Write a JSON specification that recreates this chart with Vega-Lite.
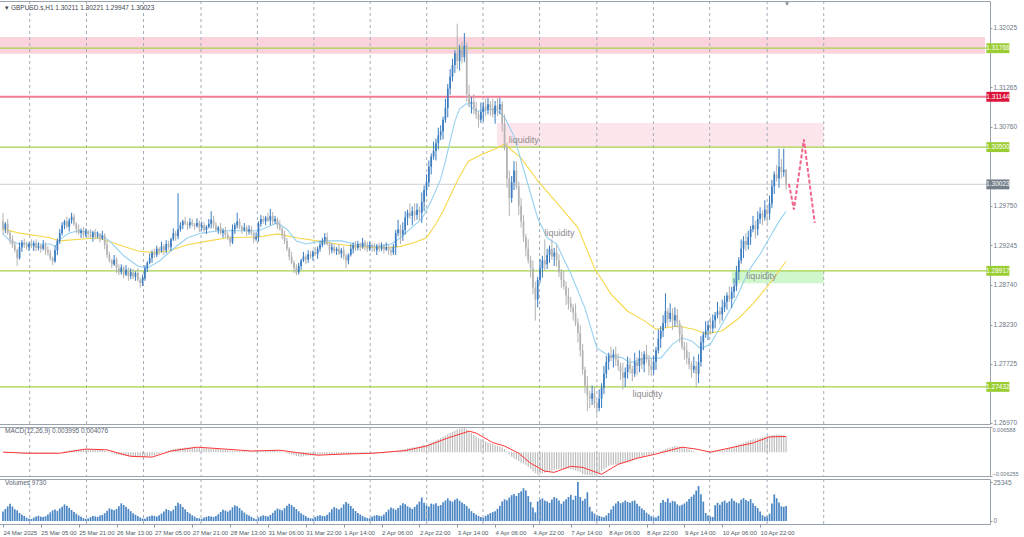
{
"$schema": "https://vega.github.io/schema/vega-lite/v6.json",
"background": "white",
"padding": {"left": -7, "top": 0, "right": 0, "bottom": 0},
"bounds": "flush",
"spacing": 3,
"config": {
  "view": {"stroke": "#9aa4ae", "strokeWidth": 1},
  "font": "Liberation Sans",
  "axis": {"grid": false, "domain": false, "labelFont": "Liberation Sans", "labelFontSize": 6.5, "labelColor": "#6b7784", "tickColor": "#8c96a0", "tickSize": 2, "labelPadding": 1, "labelOverlap": false, "labelFlush": false}
},
"datasets": {
"grid": [{"i":11.3},{"i":35.3},{"i":59.4},{"i":83.7},{"i":107.5},{"i":131.4},{"i":155.2},{"i":179.1},{"i":202.9},{"i":226.8},{"i":251.0},{"i":274.9},{"i":298.7},{"i":323.0},{"i":346.9}],
"levels": [{"p":1.31766,"t":"1.31766","k":"zone"},{"p":1.31144,"t":"1.31144","k":"red"},{"p":1.305,"t":"1.30500","k":"zone"},{"p":1.30023,"t":"1.30023","k":"bid"},{"p":1.28917,"t":"1.28917","k":"zone"},{"p":1.27432,"t":"1.27432","k":"zone"}],
"notes": [{"i":213.8,"p":1.3059,"t":"liquidity"},{"i":228.9,"p":1.2940,"t":"liquidity"},{"i":266.1,"p":1.2734,"t":"liquidity"},{"i":314.2,"p":1.2885,"t":"liquidity"}],
"proj": [{"i":332.2,"p":1.3003},{"i":334.3,"p":1.2970},{"i":338.5,"p":1.3060},{"i":343.1,"p":1.2953}],
"ma1": [{"i":0,"p":1.2939},{"i":3,"p":1.2930},{"i":7,"p":1.2926},{"i":20,"p":1.2926},{"i":22,"p":1.2923},{"i":24,"p":1.2932},{"i":28,"p":1.2940},{"i":32,"p":1.2943},{"i":40,"p":1.2940},{"i":45,"p":1.2930},{"i":51,"p":1.2911},{"i":57,"p":1.2898},{"i":61,"p":1.2895},{"i":66,"p":1.2904},{"i":72,"p":1.2920},{"i":78,"p":1.2934},{"i":84,"p":1.2940},{"i":91,"p":1.2943},{"i":99,"p":1.2943},{"i":108,"p":1.2943},{"i":112,"p":1.2948},{"i":116,"p":1.2953},{"i":120,"p":1.2945},{"i":124,"p":1.2930},{"i":128,"p":1.2926},{"i":135,"p":1.2930},{"i":143,"p":1.2930},{"i":149,"p":1.2926},{"i":158,"p":1.2923},{"i":164,"p":1.2926},{"i":168,"p":1.2934},{"i":172,"p":1.2945},{"i":177,"p":1.2958},{"i":181,"p":1.2981},{"i":185,"p":1.3009},{"i":187,"p":1.3032},{"i":189,"p":1.3058},{"i":191,"p":1.3083},{"i":193,"p":1.3099},{"i":196,"p":1.3106},{"i":200,"p":1.3096},{"i":208,"p":1.3099},{"i":212,"p":1.3088},{"i":216,"p":1.3064},{"i":220,"p":1.3022},{"i":226,"p":1.2959},{"i":230,"p":1.2934},{"i":234,"p":1.2926},{"i":240,"p":1.2888},{"i":246,"p":1.2844},{"i":251,"p":1.2793},{"i":255,"p":1.2785},{"i":262,"p":1.2780},{"i":265,"p":1.2774},{"i":271,"p":1.2780},{"i":278,"p":1.2780},{"i":283,"p":1.2798},{"i":287,"p":1.2806},{"i":291,"p":1.2802},{"i":295,"p":1.2792},{"i":299,"p":1.2798},{"i":304,"p":1.2824},{"i":310,"p":1.2857},{"i":315,"p":1.2891},{"i":320,"p":1.2913},{"i":324,"p":1.2934},{"i":328,"p":1.2955},{"i":331,"p":1.2968}],
"ma2": [{"i":0,"p":1.2945},{"i":7,"p":1.2940},{"i":20,"p":1.2934},{"i":24,"p":1.2930},{"i":40,"p":1.2934},{"i":57,"p":1.2917},{"i":64,"p":1.2915},{"i":70,"p":1.2917},{"i":78,"p":1.2925},{"i":87,"p":1.2930},{"i":95,"p":1.2934},{"i":108,"p":1.2935},{"i":116,"p":1.2939},{"i":124,"p":1.2934},{"i":133,"p":1.2930},{"i":141,"p":1.2926},{"i":149,"p":1.2923},{"i":162,"p":1.2921},{"i":168,"p":1.2923},{"i":174,"p":1.2928},{"i":179,"p":1.2934},{"i":183,"p":1.2952},{"i":186,"p":1.2968},{"i":190,"p":1.2994},{"i":192.5,"p":1.3010},{"i":196.7,"p":1.3032},{"i":202.5,"p":1.3041},{"i":209,"p":1.3049},{"i":212,"p":1.3054},{"i":219,"p":1.3036},{"i":226,"p":1.3007},{"i":236,"p":1.2972},{"i":243,"p":1.2947},{"i":250,"p":1.2895},{"i":257,"p":1.2862},{"i":264,"p":1.2840},{"i":271,"p":1.2828},{"i":276,"p":1.2817},{"i":285,"p":1.2821},{"i":292,"p":1.2817},{"i":297,"p":1.2811},{"i":304,"p":1.2815},{"i":311,"p":1.2831},{"i":318,"p":1.2853},{"i":325,"p":1.2879},{"i":331,"p":1.2904}],
"sig": [{"i":0,"s":0},{"i":11,"s":-0.0003},{"i":24,"s":-0.0003},{"i":35,"s":0.0008},{"i":44,"s":0.0006},{"i":49,"s":-0.0003},{"i":54,"s":-0.0011},{"i":63,"s":-0.0013},{"i":71,"s":0.0003},{"i":82,"s":0.0013},{"i":94,"s":0.0008},{"i":105,"s":0.0003},{"i":117,"s":0.0005},{"i":124,"s":-0.0001},{"i":133,"s":-0.0008},{"i":144,"s":-0.0005},{"i":156,"s":-0.0003},{"i":166,"s":0.0002},{"i":170,"s":0.0004},{"i":179,"s":0.0016},{"i":188,"s":0.0037},{"i":197,"s":0.0055},{"i":200,"s":0.0050},{"i":207,"s":0.0025},{"i":212,"s":0.0016},{"i":218,"s":-0.0003},{"i":223,"s":-0.0029},{"i":229,"s":-0.0050},{"i":233,"s":-0.0053},{"i":240,"s":-0.0037},{"i":245,"s":-0.0040},{"i":253,"s":-0.0058},{"i":260,"s":-0.0032},{"i":268,"s":-0.0016},{"i":276,"s":-0.0005},{"i":287,"s":0.0013},{"i":293,"s":0.0008},{"i":299,"s":0.0000},{"i":305,"s":0.0008},{"i":317,"s":0.0024},{"i":324,"s":0.0040},{"i":331,"s":0.0041}],
"bars": [
{"i":0,"o":1.2955,"h":1.2966,"l":1.2938,"c":1.2945,"v":6200,"m":0},
{"i":1,"o":1.2945,"h":1.2954,"l":1.2940,"c":1.2952,"v":7800,"m":-0.0001},
{"i":2,"o":1.2952,"h":1.2958,"l":1.2938,"c":1.2940,"v":9500,"m":-0.0001},
{"i":3,"o":1.2940,"h":1.2943,"l":1.2926,"c":1.2932,"v":11200,"m":-0.0002},
{"i":4,"o":1.2932,"h":1.2937,"l":1.2921,"c":1.2925,"v":9400,"m":-0.0002},
{"i":5,"o":1.2925,"h":1.2929,"l":1.2915,"c":1.2918,"v":7600,"m":-0.0002},
{"i":6,"o":1.2918,"h":1.2920,"l":1.2898,"c":1.2908,"v":6900,"m":-0.0003},
{"i":7,"o":1.2908,"h":1.2928,"l":1.2906,"c":1.2922,"v":5200,"m":-0.0003},
{"i":8,"o":1.2922,"h":1.2931,"l":1.2916,"c":1.2928,"v":4100,"m":-0.0003},
{"i":9,"o":1.2928,"h":1.2933,"l":1.2921,"c":1.2925,"v":3300,"m":-0.0004},
{"i":10,"o":1.2925,"h":1.2929,"l":1.2919,"c":1.2922,"v":2100,"m":-0.0004},
{"i":11,"o":1.2922,"h":1.2928,"l":1.2917,"c":1.2926,"v":1500,"m":-0.0004},
{"i":12,"o":1.2926,"h":1.2932,"l":1.2921,"c":1.2923,"v":1300,"m":-0.0004},
{"i":13,"o":1.2923,"h":1.2930,"l":1.2917,"c":1.2927,"v":2200,"m":-0.0004},
{"i":14,"o":1.2927,"h":1.2932,"l":1.2917,"c":1.2921,"v":2900,"m":-0.0004},
{"i":15,"o":1.2921,"h":1.2928,"l":1.2918,"c":1.2924,"v":3400,"m":-0.0004},
{"i":16,"o":1.2924,"h":1.2926,"l":1.2915,"c":1.2920,"v":2800,"m":-0.0003},
{"i":17,"o":1.2920,"h":1.2931,"l":1.2918,"c":1.2925,"v":2600,"m":-0.0003},
{"i":18,"o":1.2925,"h":1.2928,"l":1.2912,"c":1.2918,"v":3100,"m":-0.0003},
{"i":19,"o":1.2918,"h":1.2923,"l":1.2911,"c":1.2915,"v":4200,"m":-0.0003},
{"i":20,"o":1.2915,"h":1.2919,"l":1.2905,"c":1.2908,"v":5600,"m":-0.0003},
{"i":21,"o":1.2908,"h":1.2910,"l":1.2899,"c":1.2904,"v":6900,"m":-0.0003},
{"i":22,"o":1.2904,"h":1.2924,"l":1.2902,"c":1.2918,"v":7400,"m":-0.0002},
{"i":23,"o":1.2918,"h":1.2933,"l":1.2912,"c":1.2930,"v":6600,"m":-0.0001},
{"i":24,"o":1.2930,"h":1.2945,"l":1.2926,"c":1.2940,"v":8100,"m":0},
{"i":25,"o":1.2940,"h":1.2954,"l":1.2937,"c":1.2950,"v":9300,"m":0.0001},
{"i":26,"o":1.2950,"h":1.2957,"l":1.2945,"c":1.2955,"v":10800,"m":0.0002},
{"i":27,"o":1.2955,"h":1.2961,"l":1.2946,"c":1.2948,"v":9900,"m":0.0003},
{"i":28,"o":1.2948,"h":1.2959,"l":1.2942,"c":1.2956,"v":8600,"m":0.0004},
{"i":29,"o":1.2956,"h":1.2966,"l":1.2952,"c":1.2961,"v":7200,"m":0.0005},
{"i":30,"o":1.2961,"h":1.2965,"l":1.2949,"c":1.2952,"v":5800,"m":0.0006},
{"i":31,"o":1.2952,"h":1.2954,"l":1.2940,"c":1.2945,"v":4700,"m":0.0006},
{"i":32,"o":1.2945,"h":1.2951,"l":1.2938,"c":1.2940,"v":3600,"m":0.0007},
{"i":33,"o":1.2940,"h":1.2946,"l":1.2934,"c":1.2943,"v":2800,"m":0.0007},
{"i":34,"o":1.2943,"h":1.2948,"l":1.2934,"c":1.2938,"v":1900,"m":0.0008},
{"i":35,"o":1.2938,"h":1.2946,"l":1.2935,"c":1.2942,"v":1400,"m":0.0008},
{"i":36,"o":1.2942,"h":1.2944,"l":1.2934,"c":1.2939,"v":1700,"m":0.0008},
{"i":37,"o":1.2939,"h":1.2945,"l":1.2933,"c":1.2935,"v":2500,"m":0.0008},
{"i":38,"o":1.2935,"h":1.2943,"l":1.2929,"c":1.2940,"v":3300,"m":0.0007},
{"i":39,"o":1.2940,"h":1.2945,"l":1.2932,"c":1.2936,"v":3000,"m":0.0007},
{"i":40,"o":1.2936,"h":1.2942,"l":1.2933,"c":1.2938,"v":2700,"m":0.0006},
{"i":41,"o":1.2938,"h":1.2940,"l":1.2928,"c":1.2933,"v":3500,"m":0.0006},
{"i":42,"o":1.2933,"h":1.2943,"l":1.2931,"c":1.2937,"v":4000,"m":0.0005},
{"i":43,"o":1.2937,"h":1.2940,"l":1.2919,"c":1.2925,"v":5100,"m":0.0003},
{"i":44,"o":1.2925,"h":1.2930,"l":1.2908,"c":1.2912,"v":6600,"m":0.0001},
{"i":45,"o":1.2912,"h":1.2916,"l":1.2902,"c":1.2905,"v":8200,"m":-0.0001},
{"i":46,"o":1.2905,"h":1.2907,"l":1.2895,"c":1.2900,"v":7600,"m":-0.0003},
{"i":47,"o":1.2900,"h":1.2912,"l":1.2898,"c":1.2906,"v":7000,"m":-0.0004},
{"i":48,"o":1.2906,"h":1.2909,"l":1.2889,"c":1.2895,"v":7800,"m":-0.0006},
{"i":49,"o":1.2895,"h":1.2900,"l":1.2886,"c":1.2890,"v":9600,"m":-0.0007},
{"i":50,"o":1.2890,"h":1.2900,"l":1.2887,"c":1.2896,"v":11500,"m":-0.0008},
{"i":51,"o":1.2896,"h":1.2898,"l":1.2882,"c":1.2887,"v":10400,"m":-0.0009},
{"i":52,"o":1.2887,"h":1.2899,"l":1.2885,"c":1.2893,"v":9200,"m":-0.0010},
{"i":53,"o":1.2893,"h":1.2896,"l":1.2879,"c":1.2885,"v":7900,"m":-0.0011},
{"i":54,"o":1.2885,"h":1.2895,"l":1.2881,"c":1.2890,"v":6400,"m":-0.0011},
{"i":55,"o":1.2890,"h":1.2894,"l":1.2881,"c":1.2884,"v":5000,"m":-0.0012},
{"i":56,"o":1.2884,"h":1.2891,"l":1.2879,"c":1.2889,"v":4100,"m":-0.0012},
{"i":57,"o":1.2889,"h":1.2895,"l":1.2878,"c":1.2880,"v":3200,"m":-0.0013},
{"i":58,"o":1.2880,"h":1.2883,"l":1.2870,"c":1.2876,"v":2200,"m":-0.0013},
{"i":59,"o":1.2876,"h":1.2887,"l":1.2872,"c":1.2882,"v":1600,"m":-0.0013},
{"i":60,"o":1.2882,"h":1.2899,"l":1.2879,"c":1.2895,"v":1500,"m":-0.0013},
{"i":61,"o":1.2895,"h":1.2904,"l":1.2890,"c":1.2902,"v":2700,"m":-0.0012},
{"i":62,"o":1.2902,"h":1.2914,"l":1.2900,"c":1.2908,"v":3100,"m":-0.0011},
{"i":63,"o":1.2908,"h":1.2918,"l":1.2902,"c":1.2915,"v":3600,"m":-0.0009},
{"i":64,"o":1.2915,"h":1.2920,"l":1.2908,"c":1.2912,"v":3300,"m":-0.0008},
{"i":65,"o":1.2912,"h":1.2924,"l":1.2909,"c":1.2920,"v":2900,"m":-0.0006},
{"i":66,"o":1.2920,"h":1.2922,"l":1.2912,"c":1.2917,"v":3800,"m":-0.0004},
{"i":67,"o":1.2917,"h":1.2929,"l":1.2915,"c":1.2923,"v":4900,"m":-0.0002},
{"i":68,"o":1.2923,"h":1.2926,"l":1.2912,"c":1.2918,"v":6200,"m":0},
{"i":69,"o":1.2918,"h":1.2931,"l":1.2914,"c":1.2926,"v":7700,"m":0.0002},
{"i":70,"o":1.2926,"h":1.2930,"l":1.2919,"c":1.2922,"v":7100,"m":0.0004},
{"i":71,"o":1.2922,"h":1.2934,"l":1.2917,"c":1.2932,"v":6300,"m":0.0006},
{"i":72,"o":1.2932,"h":1.2946,"l":1.2930,"c":1.2940,"v":7400,"m":0.0008},
{"i":73,"o":1.2940,"h":1.2943,"l":1.2930,"c":1.2936,"v":9900,"m":0.0009},
{"i":74,"o":1.2936,"h":1.2991,"l":1.2932,"c":1.2945,"v":11800,"m":0.0010},
{"i":75,"o":1.2945,"h":1.2954,"l":1.2942,"c":1.2950,"v":10900,"m":0.0011},
{"i":76,"o":1.2950,"h":1.2957,"l":1.2945,"c":1.2955,"v":9100,"m":0.0011},
{"i":77,"o":1.2955,"h":1.2961,"l":1.2950,"c":1.2952,"v":7600,"m":0.0012},
{"i":78,"o":1.2952,"h":1.2955,"l":1.2944,"c":1.2950,"v":5900,"m":0.0012},
{"i":79,"o":1.2950,"h":1.2959,"l":1.2946,"c":1.2954,"v":4900,"m":0.0012},
{"i":80,"o":1.2954,"h":1.2958,"l":1.2948,"c":1.2951,"v":3700,"m":0.0012},
{"i":81,"o":1.2951,"h":1.2953,"l":1.2944,"c":1.2949,"v":2900,"m":0.0012},
{"i":82,"o":1.2949,"h":1.2959,"l":1.2947,"c":1.2953,"v":2000,"m":0.0011},
{"i":83,"o":1.2953,"h":1.2956,"l":1.2941,"c":1.2947,"v":1700,"m":0.0011},
{"i":84,"o":1.2947,"h":1.2955,"l":1.2943,"c":1.2950,"v":1400,"m":0.0010},
{"i":85,"o":1.2950,"h":1.2954,"l":1.2941,"c":1.2944,"v":2300,"m":0.0010},
{"i":86,"o":1.2944,"h":1.2950,"l":1.2939,"c":1.2948,"v":2800,"m":0.0010},
{"i":87,"o":1.2948,"h":1.2958,"l":1.2946,"c":1.2952,"v":3200,"m":0.0009},
{"i":88,"o":1.2952,"h":1.2968,"l":1.2946,"c":1.2957,"v":2900,"m":0.0009},
{"i":89,"o":1.2957,"h":1.2962,"l":1.2946,"c":1.2950,"v":2600,"m":0.0009},
{"i":90,"o":1.2950,"h":1.2954,"l":1.2941,"c":1.2944,"v":3300,"m":0.0008},
{"i":91,"o":1.2944,"h":1.2949,"l":1.2939,"c":1.2947,"v":4400,"m":0.0008},
{"i":92,"o":1.2947,"h":1.2953,"l":1.2938,"c":1.2940,"v":5900,"m":0.0007},
{"i":93,"o":1.2940,"h":1.2946,"l":1.2934,"c":1.2943,"v":7300,"m":0.0007},
{"i":94,"o":1.2943,"h":1.2948,"l":1.2934,"c":1.2938,"v":6800,"m":0.0006},
{"i":95,"o":1.2938,"h":1.2942,"l":1.2931,"c":1.2934,"v":6100,"m":0.0005},
{"i":96,"o":1.2934,"h":1.2936,"l":1.2923,"c":1.2928,"v":7000,"m":0.0004},
{"i":97,"o":1.2928,"h":1.2951,"l":1.2926,"c":1.2945,"v":8900,"m":0.0004},
{"i":98,"o":1.2945,"h":1.2953,"l":1.2939,"c":1.2950,"v":10200,"m":0.0004},
{"i":99,"o":1.2950,"h":1.2966,"l":1.2946,"c":1.2955,"v":9600,"m":0.0003},
{"i":100,"o":1.2955,"h":1.2959,"l":1.2945,"c":1.2948,"v":8400,"m":0.0003},
{"i":101,"o":1.2948,"h":1.2950,"l":1.2939,"c":1.2944,"v":6800,"m":0.0003},
{"i":102,"o":1.2944,"h":1.2953,"l":1.2942,"c":1.2947,"v":5500,"m":0.0003},
{"i":103,"o":1.2947,"h":1.2950,"l":1.2936,"c":1.2942,"v":4300,"m":0.0002},
{"i":104,"o":1.2942,"h":1.2950,"l":1.2938,"c":1.2945,"v":3500,"m":0.0002},
{"i":105,"o":1.2945,"h":1.2949,"l":1.2937,"c":1.2940,"v":2700,"m":0.0002},
{"i":106,"o":1.2940,"h":1.2942,"l":1.2927,"c":1.2932,"v":1800,"m":0.0002},
{"i":107,"o":1.2932,"h":1.2941,"l":1.2930,"c":1.2935,"v":1200,"m":0.0002},
{"i":108,"o":1.2935,"h":1.2955,"l":1.2929,"c":1.2952,"v":2400,"m":0.0002},
{"i":109,"o":1.2952,"h":1.2963,"l":1.2948,"c":1.2958,"v":3100,"m":0.0002},
{"i":110,"o":1.2958,"h":1.2962,"l":1.2952,"c":1.2955,"v":3700,"m":0.0002},
{"i":111,"o":1.2955,"h":1.2962,"l":1.2950,"c":1.2960,"v":3300,"m":0.0003},
{"i":112,"o":1.2960,"h":1.2966,"l":1.2954,"c":1.2956,"v":3000,"m":0.0003},
{"i":113,"o":1.2956,"h":1.2971,"l":1.2950,"c":1.2962,"v":3900,"m":0.0004},
{"i":114,"o":1.2962,"h":1.2967,"l":1.2951,"c":1.2955,"v":5300,"m":0.0004},
{"i":115,"o":1.2955,"h":1.2962,"l":1.2952,"c":1.2958,"v":6900,"m":0.0004},
{"i":116,"o":1.2958,"h":1.2960,"l":1.2945,"c":1.2950,"v":8100,"m":0.0004},
{"i":117,"o":1.2950,"h":1.2956,"l":1.2943,"c":1.2945,"v":7500,"m":0.0003},
{"i":118,"o":1.2945,"h":1.2948,"l":1.2932,"c":1.2938,"v":6900,"m":0.0001},
{"i":119,"o":1.2938,"h":1.2943,"l":1.2926,"c":1.2930,"v":8300,"m":-0.0001},
{"i":120,"o":1.2930,"h":1.2934,"l":1.2917,"c":1.2920,"v":9900,"m":-0.0003},
{"i":121,"o":1.2920,"h":1.2922,"l":1.2905,"c":1.2910,"v":11200,"m":-0.0005},
{"i":122,"o":1.2910,"h":1.2916,"l":1.2900,"c":1.2902,"v":10300,"m":-0.0006},
{"i":123,"o":1.2902,"h":1.2905,"l":1.2889,"c":1.2895,"v":9100,"m":-0.0008},
{"i":124,"o":1.2895,"h":1.2900,"l":1.2886,"c":1.2890,"v":7800,"m":-0.0010},
{"i":125,"o":1.2890,"h":1.2902,"l":1.2887,"c":1.2898,"v":6300,"m":-0.0011},
{"i":126,"o":1.2898,"h":1.2907,"l":1.2893,"c":1.2905,"v":5100,"m":-0.0012},
{"i":127,"o":1.2905,"h":1.2916,"l":1.2903,"c":1.2910,"v":4000,"m":-0.0011},
{"i":128,"o":1.2910,"h":1.2913,"l":1.2900,"c":1.2906,"v":3100,"m":-0.0010},
{"i":129,"o":1.2906,"h":1.2918,"l":1.2902,"c":1.2913,"v":2100,"m":-0.0009},
{"i":130,"o":1.2913,"h":1.2917,"l":1.2907,"c":1.2910,"v":1800,"m":-0.0009},
{"i":131,"o":1.2910,"h":1.2918,"l":1.2905,"c":1.2916,"v":1600,"m":-0.0008},
{"i":132,"o":1.2916,"h":1.2922,"l":1.2911,"c":1.2913,"v":2600,"m":-0.0008},
{"i":133,"o":1.2913,"h":1.2923,"l":1.2907,"c":1.2920,"v":3400,"m":-0.0007},
{"i":134,"o":1.2920,"h":1.2930,"l":1.2916,"c":1.2925,"v":3800,"m":-0.0006},
{"i":135,"o":1.2925,"h":1.2934,"l":1.2922,"c":1.2930,"v":3300,"m":-0.0005},
{"i":136,"o":1.2930,"h":1.2940,"l":1.2925,"c":1.2935,"v":3100,"m":-0.0005},
{"i":137,"o":1.2935,"h":1.2941,"l":1.2924,"c":1.2926,"v":4100,"m":-0.0005},
{"i":138,"o":1.2926,"h":1.2929,"l":1.2912,"c":1.2918,"v":5600,"m":-0.0006},
{"i":139,"o":1.2918,"h":1.2927,"l":1.2914,"c":1.2922,"v":7600,"m":-0.0006},
{"i":140,"o":1.2922,"h":1.2926,"l":1.2914,"c":1.2917,"v":9000,"m":-0.0006},
{"i":141,"o":1.2917,"h":1.2922,"l":1.2912,"c":1.2920,"v":8300,"m":-0.0006},
{"i":142,"o":1.2920,"h":1.2926,"l":1.2912,"c":1.2914,"v":7400,"m":-0.0006},
{"i":143,"o":1.2914,"h":1.2921,"l":1.2908,"c":1.2918,"v":8600,"m":-0.0006},
{"i":144,"o":1.2918,"h":1.2923,"l":1.2906,"c":1.2910,"v":10800,"m":-0.0006},
{"i":145,"o":1.2910,"h":1.2914,"l":1.2895,"c":1.2905,"v":12400,"m":-0.0006},
{"i":146,"o":1.2905,"h":1.2914,"l":1.2900,"c":1.2912,"v":11300,"m":-0.0006},
{"i":147,"o":1.2912,"h":1.2926,"l":1.2910,"c":1.2920,"v":9800,"m":-0.0005},
{"i":148,"o":1.2920,"h":1.2928,"l":1.2914,"c":1.2925,"v":8200,"m":-0.0005},
{"i":149,"o":1.2925,"h":1.2930,"l":1.2917,"c":1.2921,"v":6500,"m":-0.0004},
{"i":150,"o":1.2921,"h":1.2930,"l":1.2918,"c":1.2926,"v":5200,"m":-0.0004},
{"i":151,"o":1.2926,"h":1.2928,"l":1.2917,"c":1.2922,"v":4200,"m":-0.0004},
{"i":152,"o":1.2922,"h":1.2934,"l":1.2920,"c":1.2928,"v":3300,"m":-0.0003},
{"i":153,"o":1.2928,"h":1.2931,"l":1.2918,"c":1.2924,"v":2400,"m":-0.0003},
{"i":154,"o":1.2924,"h":1.2929,"l":1.2916,"c":1.2920,"v":1900,"m":-0.0003},
{"i":155,"o":1.2920,"h":1.2929,"l":1.2917,"c":1.2925,"v":1700,"m":-0.0003},
{"i":156,"o":1.2925,"h":1.2927,"l":1.2916,"c":1.2921,"v":2800,"m":-0.0003},
{"i":157,"o":1.2921,"h":1.2927,"l":1.2916,"c":1.2918,"v":3500,"m":-0.0003},
{"i":158,"o":1.2918,"h":1.2926,"l":1.2912,"c":1.2923,"v":3900,"m":-0.0003},
{"i":159,"o":1.2923,"h":1.2928,"l":1.2916,"c":1.2920,"v":3400,"m":-0.0002},
{"i":160,"o":1.2920,"h":1.2928,"l":1.2917,"c":1.2924,"v":3200,"m":-0.0002},
{"i":161,"o":1.2924,"h":1.2926,"l":1.2914,"c":1.2919,"v":4300,"m":-0.0002},
{"i":162,"o":1.2919,"h":1.2928,"l":1.2917,"c":1.2922,"v":5800,"m":-0.0002},
{"i":163,"o":1.2922,"h":1.2925,"l":1.2912,"c":1.2918,"v":7400,"m":-0.0002},
{"i":164,"o":1.2918,"h":1.2923,"l":1.2911,"c":1.2915,"v":8800,"m":-0.0001},
{"i":165,"o":1.2915,"h":1.2926,"l":1.2912,"c":1.2922,"v":8100,"m":0},
{"i":166,"o":1.2922,"h":1.2944,"l":1.2912,"c":1.2940,"v":7300,"m":0.0002},
{"i":167,"o":1.2940,"h":1.2957,"l":1.2936,"c":1.2945,"v":8400,"m":0.0004},
{"i":168,"o":1.2945,"h":1.2951,"l":1.2926,"c":1.2938,"v":10200,"m":0.0005},
{"i":169,"o":1.2938,"h":1.2954,"l":1.2930,"c":1.2944,"v":11600,"m":0.0006},
{"i":170,"o":1.2944,"h":1.2968,"l":1.2938,"c":1.2960,"v":10900,"m":0.0008},
{"i":171,"o":1.2960,"h":1.2970,"l":1.2950,"c":1.2966,"v":9600,"m":0.0010},
{"i":172,"o":1.2966,"h":1.2978,"l":1.2958,"c":1.2962,"v":8800,"m":0.0011},
{"i":173,"o":1.2962,"h":1.2974,"l":1.2950,"c":1.2968,"v":7900,"m":0.0012},
{"i":174,"o":1.2968,"h":1.2978,"l":1.2955,"c":1.2963,"v":9200,"m":0.0013},
{"i":175,"o":1.2963,"h":1.2978,"l":1.2957,"c":1.2970,"v":10800,"m":0.0014},
{"i":176,"o":1.2970,"h":1.2974,"l":1.2956,"c":1.2966,"v":12600,"m":0.0015},
{"i":177,"o":1.2966,"h":1.2992,"l":1.2953,"c":1.2980,"v":15300,"m":0.0017},
{"i":178,"o":1.2980,"h":1.3001,"l":1.2968,"c":1.2995,"v":11800,"m":0.0019},
{"i":179,"o":1.2995,"h":1.3015,"l":1.2987,"c":1.3005,"v":10200,"m":0.0020},
{"i":180,"o":1.3005,"h":1.3033,"l":1.2999,"c":1.3025,"v":9400,"m":0.0022},
{"i":181,"o":1.3025,"h":1.3042,"l":1.3015,"c":1.3038,"v":11300,"m":0.0025},
{"i":182,"o":1.3038,"h":1.3057,"l":1.3034,"c":1.3045,"v":10800,"m":0.0028},
{"i":183,"o":1.3045,"h":1.3061,"l":1.3033,"c":1.3055,"v":11600,"m":0.0031},
{"i":184,"o":1.3055,"h":1.3075,"l":1.3047,"c":1.3065,"v":9800,"m":0.0034},
{"i":185,"o":1.3065,"h":1.3078,"l":1.3059,"c":1.3070,"v":10400,"m":0.0037},
{"i":186,"o":1.3070,"h":1.3089,"l":1.3060,"c":1.3085,"v":12200,"m":0.0040},
{"i":187,"o":1.3085,"h":1.3112,"l":1.3081,"c":1.3100,"v":13400,"m":0.0043},
{"i":188,"o":1.3100,"h":1.3131,"l":1.3088,"c":1.3125,"v":14700,"m":0.0047},
{"i":189,"o":1.3125,"h":1.3150,"l":1.3117,"c":1.3140,"v":13100,"m":0.0050},
{"i":190,"o":1.3140,"h":1.3163,"l":1.3134,"c":1.3155,"v":12600,"m":0.0053},
{"i":191,"o":1.3155,"h":1.3174,"l":1.3145,"c":1.3170,"v":13800,"m":0.0056},
{"i":192,"o":1.3170,"h":1.3208,"l":1.3150,"c":1.3160,"v":14600,"m":0.0059},
{"i":193,"o":1.3160,"h":1.3181,"l":1.3148,"c":1.3175,"v":13200,"m":0.0061},
{"i":194,"o":1.3175,"h":1.3185,"l":1.3157,"c":1.3165,"v":12100,"m":0.0062},
{"i":195,"o":1.3165,"h":1.3196,"l":1.3159,"c":1.3180,"v":11000,"m":0.0063},
{"i":196,"o":1.3180,"h":1.3184,"l":1.3108,"c":1.3118,"v":9800,"m":0.0060},
{"i":197,"o":1.3118,"h":1.3130,"l":1.3101,"c":1.3105,"v":8200,"m":0.0055},
{"i":198,"o":1.3105,"h":1.3114,"l":1.3093,"c":1.3108,"v":6400,"m":0.0050},
{"i":199,"o":1.3108,"h":1.3118,"l":1.3092,"c":1.3100,"v":5200,"m":0.0045},
{"i":200,"o":1.3100,"h":1.3108,"l":1.3086,"c":1.3092,"v":4100,"m":0.0041},
{"i":201,"o":1.3092,"h":1.3096,"l":1.3075,"c":1.3085,"v":3300,"m":0.0037},
{"i":202,"o":1.3085,"h":1.3107,"l":1.3081,"c":1.3095,"v":2600,"m":0.0034},
{"i":203,"o":1.3095,"h":1.3108,"l":1.3083,"c":1.3102,"v":2100,"m":0.0031},
{"i":204,"o":1.3102,"h":1.3112,"l":1.3090,"c":1.3098,"v":3400,"m":0.0028},
{"i":205,"o":1.3098,"h":1.3113,"l":1.3092,"c":1.3105,"v":4200,"m":0.0025},
{"i":206,"o":1.3105,"h":1.3109,"l":1.3090,"c":1.3100,"v":5100,"m":0.0023},
{"i":207,"o":1.3100,"h":1.3112,"l":1.3088,"c":1.3092,"v":5800,"m":0.0021},
{"i":208,"o":1.3092,"h":1.3109,"l":1.3080,"c":1.3103,"v":6300,"m":0.0019},
{"i":209,"o":1.3103,"h":1.3113,"l":1.3090,"c":1.3098,"v":7900,"m":0.0017},
{"i":210,"o":1.3098,"h":1.3113,"l":1.3092,"c":1.3105,"v":9800,"m":0.0015},
{"i":211,"o":1.3105,"h":1.3109,"l":1.3070,"c":1.3080,"v":12700,"m":0.0012},
{"i":212,"o":1.3080,"h":1.3092,"l":1.3046,"c":1.3050,"v":14100,"m":0.0008},
{"i":213,"o":1.3050,"h":1.3056,"l":1.2998,"c":1.3010,"v":13500,"m":0.0002},
{"i":214,"o":1.3010,"h":1.3020,"l":1.2962,"c":1.2985,"v":15200,"m":-0.0006},
{"i":215,"o":1.2985,"h":1.3013,"l":1.2979,"c":1.3005,"v":16800,"m":-0.0012},
{"i":216,"o":1.3005,"h":1.3032,"l":1.2995,"c":1.3020,"v":17600,"m":-0.0016},
{"i":217,"o":1.3020,"h":1.3032,"l":1.2996,"c":1.3000,"v":16300,"m":-0.0019},
{"i":218,"o":1.3000,"h":1.3006,"l":1.2963,"c":1.2975,"v":18200,"m":-0.0023},
{"i":219,"o":1.2975,"h":1.2985,"l":1.2947,"c":1.2955,"v":19400,"m":-0.0027},
{"i":220,"o":1.2955,"h":1.2963,"l":1.2929,"c":1.2935,"v":21300,"m":-0.0030},
{"i":221,"o":1.2935,"h":1.2939,"l":1.2910,"c":1.2920,"v":19800,"m":-0.0034},
{"i":222,"o":1.2920,"h":1.2932,"l":1.2901,"c":1.2905,"v":16200,"m":-0.0039},
{"i":223,"o":1.2905,"h":1.2911,"l":1.2883,"c":1.2895,"v":12400,"m":-0.0044},
{"i":224,"o":1.2895,"h":1.2905,"l":1.2862,"c":1.2870,"v":8800,"m":-0.0050},
{"i":225,"o":1.2870,"h":1.2878,"l":1.2828,"c":1.2855,"v":5600,"m":-0.0055},
{"i":226,"o":1.2855,"h":1.2884,"l":1.2845,"c":1.2880,"v":12700,"m":-0.0059},
{"i":227,"o":1.2880,"h":1.2907,"l":1.2876,"c":1.2895,"v":14000,"m":-0.0058},
{"i":228,"o":1.2895,"h":1.2911,"l":1.2883,"c":1.2905,"v":14700,"m":-0.0056},
{"i":229,"o":1.2905,"h":1.2932,"l":1.2892,"c":1.2900,"v":13300,"m":-0.0054},
{"i":230,"o":1.2900,"h":1.2920,"l":1.2894,"c":1.2912,"v":12600,"m":-0.0052},
{"i":231,"o":1.2912,"h":1.2924,"l":1.2902,"c":1.2920,"v":11800,"m":-0.0050},
{"i":232,"o":1.2920,"h":1.2932,"l":1.2906,"c":1.2910,"v":13900,"m":-0.0048},
{"i":233,"o":1.2910,"h":1.2921,"l":1.2898,"c":1.2915,"v":15600,"m":-0.0046},
{"i":234,"o":1.2915,"h":1.2925,"l":1.2897,"c":1.2905,"v":14800,"m":-0.0045},
{"i":235,"o":1.2905,"h":1.2913,"l":1.2884,"c":1.2890,"v":13400,"m":-0.0044},
{"i":236,"o":1.2890,"h":1.2894,"l":1.2870,"c":1.2880,"v":11200,"m":-0.0044},
{"i":237,"o":1.2880,"h":1.2892,"l":1.2868,"c":1.2872,"v":12800,"m":-0.0043},
{"i":238,"o":1.2872,"h":1.2878,"l":1.2848,"c":1.2860,"v":14200,"m":-0.0043},
{"i":239,"o":1.2860,"h":1.2870,"l":1.2842,"c":1.2850,"v":15600,"m":-0.0043},
{"i":240,"o":1.2850,"h":1.2858,"l":1.2839,"c":1.2845,"v":17000,"m":-0.0044},
{"i":241,"o":1.2845,"h":1.2849,"l":1.2828,"c":1.2838,"v":13800,"m":-0.0046},
{"i":242,"o":1.2838,"h":1.2850,"l":1.2821,"c":1.2825,"v":16400,"m":-0.0048},
{"i":243,"o":1.2825,"h":1.2831,"l":1.2800,"c":1.2812,"v":25345,"m":-0.0050},
{"i":244,"o":1.2812,"h":1.2822,"l":1.2782,"c":1.2790,"v":15600,"m":-0.0053},
{"i":245,"o":1.2790,"h":1.2798,"l":1.2759,"c":1.2765,"v":13200,"m":-0.0057},
{"i":246,"o":1.2765,"h":1.2769,"l":1.2735,"c":1.2745,"v":14400,"m":-0.0059},
{"i":247,"o":1.2745,"h":1.2757,"l":1.2712,"c":1.2732,"v":18700,"m":-0.0060},
{"i":248,"o":1.2732,"h":1.2738,"l":1.2716,"c":1.2728,"v":9200,"m":-0.0060},
{"i":249,"o":1.2728,"h":1.2745,"l":1.2720,"c":1.2735,"v":6200,"m":-0.0061},
{"i":250,"o":1.2735,"h":1.2743,"l":1.2716,"c":1.2722,"v":4800,"m":-0.0061},
{"i":251,"o":1.2722,"h":1.2726,"l":1.2708,"c":1.2716,"v":3900,"m":-0.0060},
{"i":252,"o":1.2716,"h":1.2740,"l":1.2712,"c":1.2728,"v":3300,"m":-0.0056},
{"i":253,"o":1.2728,"h":1.2748,"l":1.2716,"c":1.2742,"v":2800,"m":-0.0050},
{"i":254,"o":1.2742,"h":1.2770,"l":1.2734,"c":1.2760,"v":2400,"m":-0.0044},
{"i":255,"o":1.2760,"h":1.2783,"l":1.2754,"c":1.2775,"v":3600,"m":-0.0040},
{"i":256,"o":1.2775,"h":1.2787,"l":1.2765,"c":1.2783,"v":5200,"m":-0.0036},
{"i":257,"o":1.2783,"h":1.2795,"l":1.2776,"c":1.2780,"v":7400,"m":-0.0034},
{"i":258,"o":1.2780,"h":1.2791,"l":1.2768,"c":1.2785,"v":9800,"m":-0.0033},
{"i":259,"o":1.2785,"h":1.2795,"l":1.2770,"c":1.2778,"v":11400,"m":-0.0032},
{"i":260,"o":1.2778,"h":1.2786,"l":1.2764,"c":1.2770,"v":12800,"m":-0.0031},
{"i":261,"o":1.2770,"h":1.2774,"l":1.2752,"c":1.2762,"v":11600,"m":-0.0031},
{"i":262,"o":1.2762,"h":1.2774,"l":1.2740,"c":1.2755,"v":12200,"m":-0.0030},
{"i":263,"o":1.2755,"h":1.2768,"l":1.2743,"c":1.2762,"v":13300,"m":-0.0029},
{"i":264,"o":1.2762,"h":1.2782,"l":1.2754,"c":1.2772,"v":12400,"m":-0.0027},
{"i":265,"o":1.2772,"h":1.2780,"l":1.2760,"c":1.2766,"v":11800,"m":-0.0025},
{"i":266,"o":1.2766,"h":1.2770,"l":1.2750,"c":1.2760,"v":12900,"m":-0.0022},
{"i":267,"o":1.2760,"h":1.2787,"l":1.2756,"c":1.2775,"v":13300,"m":-0.0019},
{"i":268,"o":1.2775,"h":1.2781,"l":1.2758,"c":1.2770,"v":11200,"m":-0.0016},
{"i":269,"o":1.2770,"h":1.2790,"l":1.2762,"c":1.2780,"v":9600,"m":-0.0014},
{"i":270,"o":1.2780,"h":1.2788,"l":1.2766,"c":1.2772,"v":8200,"m":-0.0012},
{"i":271,"o":1.2772,"h":1.2789,"l":1.2762,"c":1.2785,"v":7100,"m":-0.0010},
{"i":272,"o":1.2785,"h":1.2797,"l":1.2774,"c":1.2778,"v":5400,"m":-0.0008},
{"i":273,"o":1.2778,"h":1.2784,"l":1.2758,"c":1.2770,"v":4200,"m":-0.0007},
{"i":274,"o":1.2770,"h":1.2780,"l":1.2757,"c":1.2765,"v":3100,"m":-0.0006},
{"i":275,"o":1.2765,"h":1.2783,"l":1.2759,"c":1.2775,"v":2600,"m":-0.0005},
{"i":276,"o":1.2775,"h":1.2794,"l":1.2765,"c":1.2790,"v":2200,"m":-0.0002},
{"i":277,"o":1.2790,"h":1.2817,"l":1.2786,"c":1.2805,"v":3400,"m":0.0001},
{"i":278,"o":1.2805,"h":1.2821,"l":1.2793,"c":1.2815,"v":11800,"m":0.0003},
{"i":279,"o":1.2815,"h":1.2835,"l":1.2807,"c":1.2825,"v":13600,"m":0.0005},
{"i":280,"o":1.2825,"h":1.2863,"l":1.2819,"c":1.2840,"v":12400,"m":0.0008},
{"i":281,"o":1.2840,"h":1.2844,"l":1.2820,"c":1.2830,"v":14700,"m":0.0010},
{"i":282,"o":1.2830,"h":1.2850,"l":1.2826,"c":1.2838,"v":11900,"m":0.0012},
{"i":283,"o":1.2838,"h":1.2844,"l":1.2816,"c":1.2828,"v":13100,"m":0.0014},
{"i":284,"o":1.2828,"h":1.2845,"l":1.2820,"c":1.2835,"v":12700,"m":0.0016},
{"i":285,"o":1.2835,"h":1.2843,"l":1.2819,"c":1.2825,"v":10800,"m":0.0015},
{"i":286,"o":1.2825,"h":1.2829,"l":1.2800,"c":1.2810,"v":9900,"m":0.0014},
{"i":287,"o":1.2810,"h":1.2822,"l":1.2791,"c":1.2795,"v":10600,"m":0.0012},
{"i":288,"o":1.2795,"h":1.2801,"l":1.2778,"c":1.2790,"v":11400,"m":0.0010},
{"i":289,"o":1.2790,"h":1.2800,"l":1.2772,"c":1.2780,"v":12600,"m":0.0008},
{"i":290,"o":1.2780,"h":1.2788,"l":1.2766,"c":1.2772,"v":14300,"m":0.0007},
{"i":291,"o":1.2772,"h":1.2776,"l":1.2755,"c":1.2765,"v":15800,"m":0.0005},
{"i":292,"o":1.2765,"h":1.2782,"l":1.2761,"c":1.2770,"v":17200,"m":0.0003},
{"i":293,"o":1.2770,"h":1.2776,"l":1.2742,"c":1.2760,"v":19800,"m":0.0001},
{"i":294,"o":1.2760,"h":1.2785,"l":1.2748,"c":1.2775,"v":22700,"m":0},
{"i":295,"o":1.2775,"h":1.2808,"l":1.2769,"c":1.2800,"v":17400,"m":0},
{"i":296,"o":1.2800,"h":1.2814,"l":1.2790,"c":1.2810,"v":12600,"m":0},
{"i":297,"o":1.2810,"h":1.2827,"l":1.2806,"c":1.2815,"v":5200,"m":0.0001},
{"i":298,"o":1.2815,"h":1.2828,"l":1.2803,"c":1.2822,"v":3600,"m":0.0001},
{"i":299,"o":1.2822,"h":1.2832,"l":1.2810,"c":1.2818,"v":2900,"m":0.0001},
{"i":300,"o":1.2818,"h":1.2836,"l":1.2812,"c":1.2828,"v":2600,"m":0.0001},
{"i":301,"o":1.2828,"h":1.2839,"l":1.2818,"c":1.2835,"v":10200,"m":0.0002},
{"i":302,"o":1.2835,"h":1.2852,"l":1.2831,"c":1.2840,"v":11800,"m":0.0003},
{"i":303,"o":1.2840,"h":1.2846,"l":1.2824,"c":1.2836,"v":10600,"m":0.0004},
{"i":304,"o":1.2836,"h":1.2855,"l":1.2828,"c":1.2845,"v":12400,"m":0.0005},
{"i":305,"o":1.2845,"h":1.2860,"l":1.2839,"c":1.2852,"v":13300,"m":0.0006},
{"i":306,"o":1.2852,"h":1.2864,"l":1.2842,"c":1.2860,"v":11900,"m":0.0008},
{"i":307,"o":1.2860,"h":1.2872,"l":1.2852,"c":1.2856,"v":12800,"m":0.0010},
{"i":308,"o":1.2856,"h":1.2871,"l":1.2844,"c":1.2865,"v":14600,"m":0.0012},
{"i":309,"o":1.2865,"h":1.2882,"l":1.2857,"c":1.2872,"v":13200,"m":0.0014},
{"i":310,"o":1.2872,"h":1.2898,"l":1.2866,"c":1.2890,"v":12100,"m":0.0017},
{"i":311,"o":1.2890,"h":1.2909,"l":1.2880,"c":1.2905,"v":11500,"m":0.0020},
{"i":312,"o":1.2905,"h":1.2932,"l":1.2901,"c":1.2920,"v":13800,"m":0.0022},
{"i":313,"o":1.2920,"h":1.2936,"l":1.2908,"c":1.2930,"v":14900,"m":0.0024},
{"i":314,"o":1.2930,"h":1.2940,"l":1.2917,"c":1.2925,"v":13600,"m":0.0027},
{"i":315,"o":1.2925,"h":1.2943,"l":1.2919,"c":1.2935,"v":12800,"m":0.0030},
{"i":316,"o":1.2935,"h":1.2949,"l":1.2925,"c":1.2945,"v":14200,"m":0.0032},
{"i":317,"o":1.2945,"h":1.2962,"l":1.2941,"c":1.2950,"v":11600,"m":0.0033},
{"i":318,"o":1.2950,"h":1.2956,"l":1.2933,"c":1.2945,"v":9800,"m":0.0035},
{"i":319,"o":1.2945,"h":1.2968,"l":1.2937,"c":1.2958,"v":8400,"m":0.0036},
{"i":320,"o":1.2958,"h":1.2973,"l":1.2952,"c":1.2965,"v":6100,"m":0.0038},
{"i":321,"o":1.2965,"h":1.2969,"l":1.2950,"c":1.2960,"v":3800,"m":0.0039},
{"i":322,"o":1.2960,"h":1.2982,"l":1.2956,"c":1.2970,"v":2900,"m":0.0040},
{"i":323,"o":1.2970,"h":1.2976,"l":1.2953,"c":1.2965,"v":3300,"m":0.0042},
{"i":324,"o":1.2965,"h":1.2988,"l":1.2957,"c":1.2978,"v":4700,"m":0.0043},
{"i":325,"o":1.2978,"h":1.3008,"l":1.2972,"c":1.3000,"v":11300,"m":0.0044},
{"i":326,"o":1.3000,"h":1.3019,"l":1.2990,"c":1.3015,"v":17300,"m":0.0045},
{"i":327,"o":1.3015,"h":1.3027,"l":1.3006,"c":1.3010,"v":14800,"m":0.0046},
{"i":328,"o":1.3010,"h":1.3048,"l":1.2998,"c":1.3025,"v":12000,"m":0.0046},
{"i":329,"o":1.3025,"h":1.3035,"l":1.3010,"c":1.3018,"v":9600,"m":0.0046},
{"i":330,"o":1.3018,"h":1.3048,"l":1.3012,"c":1.3021,"v":9200,"m":0.0045},
{"i":331,"o":1.3021,"h":1.3022,"l":1.2995,"c":1.3002,"v":9730,"m":0.0040}
]
},
"vconcat": [
{
  "width": 995, "height": 423,
  "layer": [
    {"data": {"values": [{"lo": 1.31696, "hi": 1.31909}]},
     "mark": {"type": "rect", "color": "#fbd3dc"},
     "encoding": {
       "x": {"datum": -1.255, "type": "quantitative", "scale": {"domain": [-1.255, 415.06], "nice": false, "zero": false}, "axis": null},
       "x2": {"datum": 415.06},
       "y": {"field": "lo", "type": "quantitative", "scale": {"domain": [1.26957, 1.3237], "nice": false, "zero": false},
             "axis": {"orient": "right", "title": null, "format": ".5f", "values": [1.3228, 1.32025, 1.3153, 1.31265, 1.31015, 1.3076, 1.30255, 1.2975, 1.29495, 1.29245, 1.2899, 1.2874, 1.28485, 1.2823, 1.2798, 1.27725, 1.2722, 1.2697]}},
       "y2": {"field": "hi"}}},
    {"data": {"values": [{}]},
     "mark": {"type": "rect", "color": "#fde6eb"},
     "encoding": {"x": {"datum": 208.8, "type": "quantitative", "axis": null}, "x2": {"datum": 346.9}, "y": {"datum": 1.305, "type": "quantitative"}, "y2": {"datum": 1.30808}}},
    {"data": {"values": [{}]},
     "mark": {"type": "rect", "color": "#cff7cb"},
     "encoding": {"x": {"datum": 308, "type": "quantitative", "axis": null}, "x2": {"datum": 346.9}, "y": {"datum": 1.28757, "type": "quantitative"}, "y2": {"datum": 1.28917}}},
    {"data": {"name": "grid"},
     "mark": {"type": "rule", "color": "#a3adb8", "strokeDash": [3, 3], "strokeWidth": 1},
     "encoding": {"x": {"field": "i", "type": "quantitative", "axis": null}}},
    {"data": {"name": "levels"},
     "mark": {"type": "rule"},
     "encoding": {
       "y": {"field": "p", "type": "quantitative"},
       "color": {"condition": [{"test": "datum.k === 'red'", "value": "#f27d93"}, {"test": "datum.k === 'bid'", "value": "#d9d9d9"}], "value": "#a6d14a"},
       "strokeWidth": {"condition": {"test": "datum.k === 'red'", "value": 2}, "value": 1.3}}},
    {"data": {"name": "ma2"},
     "mark": {"type": "line", "color": "#f6d84a", "strokeWidth": 1.1},
     "encoding": {"x": {"field": "i", "type": "quantitative", "axis": null}, "y": {"field": "p", "type": "quantitative"}}},
    {"data": {"name": "ma1"},
     "mark": {"type": "line", "color": "#96d2f0", "strokeWidth": 1.1},
     "encoding": {"x": {"field": "i", "type": "quantitative", "axis": null}, "y": {"field": "p", "type": "quantitative"}}},
    {"data": {"name": "bars"},
     "mark": {"type": "rule", "strokeWidth": 1},
     "encoding": {
       "x": {"field": "i", "type": "quantitative", "axis": null},
       "y": {"field": "l", "type": "quantitative"}, "y2": {"field": "h"},
       "color": {"condition": {"test": "datum.c >= datum.o", "value": "#3b7cc0"}, "value": "#b3b3b3"}}},
    {"data": {"name": "bars"},
     "mark": {"type": "bar", "width": 1.7},
     "encoding": {
       "x": {"field": "i", "type": "quantitative", "axis": null},
       "y": {"field": "o", "type": "quantitative"}, "y2": {"field": "c"},
       "color": {"condition": {"test": "datum.c >= datum.o", "value": "#3b7cc0"}, "value": "#b3b3b3"}}},
    {"data": {"name": "notes"},
     "mark": {"type": "text", "align": "left", "baseline": "middle", "fontSize": 9, "color": "#8c8c8c"},
     "encoding": {"x": {"field": "i", "type": "quantitative", "axis": null}, "y": {"field": "p", "type": "quantitative"}, "text": {"field": "t"}}},
    {"data": {"name": "proj"},
     "mark": {"type": "line", "color": "#f0668c", "strokeWidth": 2, "strokeDash": [4, 2]},
     "encoding": {"x": {"field": "i", "type": "quantitative", "axis": null}, "y": {"field": "p", "type": "quantitative"}, "order": {"field": "i"}}},
    {"data": {"values": [{}]},
     "mark": {"type": "text", "align": "left", "baseline": "middle", "fontSize": 6.5, "color": "#3c4650"},
     "encoding": {"x": {"datum": 0.9, "type": "quantitative", "axis": null}, "y": {"datum": 1.3228, "type": "quantitative"}, "text": {"value": "▾ GBPUSD.s,H1  1.30211 1.30221 1.29947 1.30023"}}},
    {"data": {"values": [{}]},
     "mark": {"type": "point", "shape": "triangle-down", "filled": true, "size": 18, "color": "#8e98a2", "opacity": 1},
     "encoding": {"x": {"datum": 331.4, "type": "quantitative", "axis": null}, "y": {"datum": 1.3233, "type": "quantitative"}}},
    {"data": {"name": "levels"},
     "mark": {"type": "point", "shape": "M-1,-0.43L1,-0.43L1,0.43L-1,0.43Z", "filled": true, "size": 529, "opacity": 1},
     "encoding": {
       "x": {"datum": 420.5, "type": "quantitative", "axis": null},
       "y": {"field": "p", "type": "quantitative"},
       "color": {"condition": [{"test": "datum.k === 'red'", "value": "#dc143c"}, {"test": "datum.k === 'bid'", "value": "#737f8b"}], "value": "#9acd32"}}},
    {"data": {"name": "levels"},
     "mark": {"type": "text", "align": "center", "baseline": "middle", "fontSize": 6.5, "color": "white"},
     "encoding": {"x": {"datum": 420.5, "type": "quantitative", "axis": null}, "y": {"field": "p", "type": "quantitative"}, "text": {"field": "t"}}}
  ]
},
{
  "width": 995, "height": 49,
  "layer": [
    {"data": {"name": "bars"},
     "mark": {"type": "bar", "width": 1.2, "color": "#bdbdbd"},
     "encoding": {
       "x": {"field": "i", "type": "quantitative", "scale": {"domain": [-1.255, 415.06], "nice": false, "zero": false}, "axis": null},
       "y": {"field": "m", "type": "quantitative", "scale": {"domain": [-0.006255, 0.006588], "nice": false, "zero": false},
             "axis": {"orient": "right", "title": null, "values": [0.006588, 0, -0.006255], "labelFontSize": 5.5, "labelPadding": 0, "labelFlush": true, "labelExpr": "datum.value == 0 ? '0.00' : format(datum.value, '.6f')"}},
       "y2": {"datum": 0}}},
    {"data": {"name": "grid"},
     "mark": {"type": "rule", "color": "#a3adb8", "strokeDash": [3, 3], "strokeWidth": 1},
     "encoding": {"x": {"field": "i", "type": "quantitative", "axis": null}}},
    {"data": {"name": "sig"},
     "mark": {"type": "line", "color": "#ff3535", "strokeWidth": 1},
     "encoding": {"x": {"field": "i", "type": "quantitative", "axis": null}, "y": {"field": "s", "type": "quantitative"}}},
    {"data": {"values": [{}]},
     "mark": {"type": "text", "align": "left", "baseline": "middle", "fontSize": 6.5, "color": "#5a6470"},
     "encoding": {"x": {"datum": 0.9, "type": "quantitative", "axis": null}, "y": {"datum": 0.0055, "type": "quantitative"}, "text": {"value": "MACD(12,26,9) 0.003995 0.004076"}}}
  ]
},
{
  "width": 995, "height": 45,
  "layer": [
    {"data": {"name": "bars"},
     "mark": {"type": "bar", "width": 1.7, "color": "#4a86c4"},
     "encoding": {
       "x": {"field": "i", "type": "quantitative", "scale": {"domain": [-1.255, 415.06], "nice": false, "zero": false},
             "axis": {"orient": "bottom", "title": null, "tickSize": 3, "labelPadding": 2, "values": [0,16,32,48,64,80,96,112,128,144,160,176,192,208,224,240,256,272,288,304,320], "labelAlign": "left", "labelFontSize": 6, "labelColor": "#4f5a66", "labelExpr": "['24 Mar 2025','25 Mar 05:00','25 Mar 21:00','26 Mar 13:00','27 Mar 05:00','27 Mar 21:00','28 Mar 13:00','31 Mar 06:00','31 Mar 22:00','1 Apr 14:00','2 Apr 06:00','2 Apr 22:00','3 Apr 14:00','4 Apr 06:00','4 Apr 22:00','7 Apr 14:00','8 Apr 06:00','8 Apr 22:00','9 Apr 14:00','10 Apr 06:00','10 Apr 22:00'][round(datum.value/16)]"}},
       "y": {"field": "v", "type": "quantitative", "scale": {"domain": [-1950, 27295], "nice": false, "zero": false},
             "axis": {"orient": "right", "title": null, "values": [25345, 0], "format": "d"}},
       "y2": {"datum": 0}}},
    {"data": {"name": "grid"},
     "mark": {"type": "rule", "color": "#a3adb8", "strokeDash": [3, 3], "strokeWidth": 1},
     "encoding": {"x": {"field": "i", "type": "quantitative"}}},
    {"data": {"values": [{}]},
     "mark": {"type": "text", "align": "left", "baseline": "middle", "fontSize": 6.5, "color": "#5a6470"},
     "encoding": {"x": {"datum": 0.9, "type": "quantitative"}, "y": {"datum": 24700, "type": "quantitative"}, "text": {"value": "Volumes 9730"}}}
  ]
}
]
}
